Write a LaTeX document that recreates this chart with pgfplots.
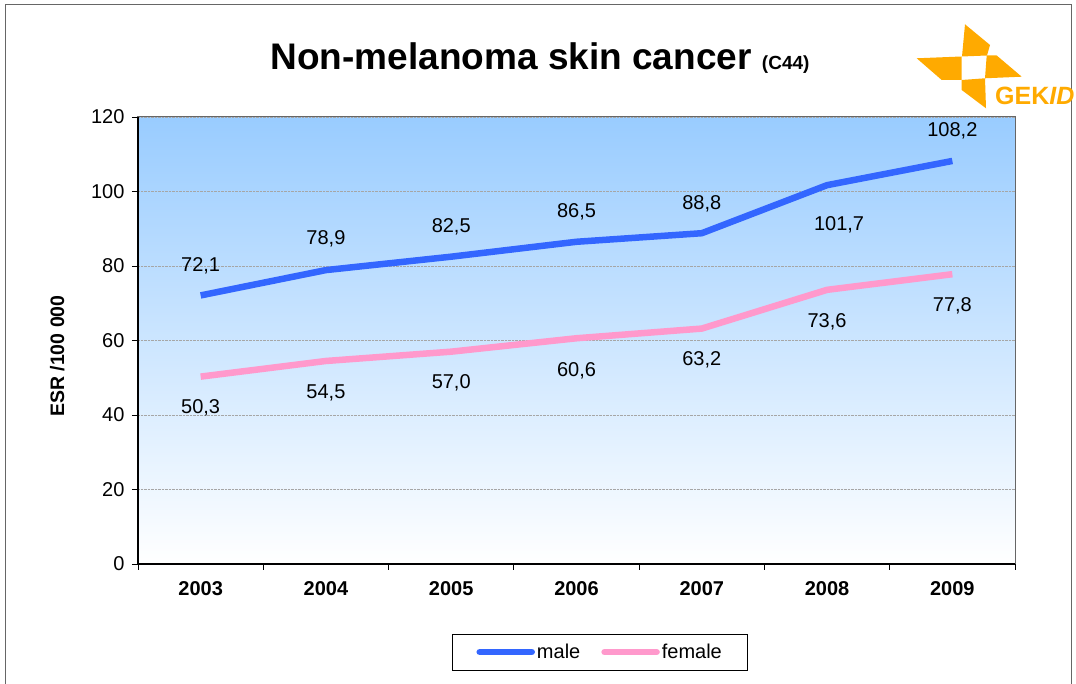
\documentclass[border=0pt]{standalone}
\usepackage{fontspec}
\setmainfont{Liberation Sans}
\usepackage{pgfplots}
\pgfplotsset{compat=1.18}
\definecolor{male}{HTML}{3366FF}
\definecolor{female}{HTML}{FF99CC}
\definecolor{bgtop}{HTML}{99CCFF}
\definecolor{logoc}{HTML}{FFAA00}
\begin{document}
\begin{tikzpicture}[x=1pt,y=1pt]
\useasboundingbox (-138,-120) rectangle (938,564);
% outer frame and decorations in pixel coordinates
\begin{scope}[shift={(-138pt,564pt)},x=1pt,y=-1pt]
  \draw[gray!80!black, line width=1pt] (6,700) -- (6,5) -- (1071,5) -- (1071,700);
  \node[font=\bfseries\fontsize{37}{44}\selectfont, anchor=base] at (540,70) {Non-melanoma skin cancer {\fontsize{19}{22}\selectfont (C44)}};
  % logo
  \fill[logoc] (965,24.3) -- (990,45) -- (987,55.5) -- (962,56.5) -- cycle;
  \fill[logoc] (916.7,58.3) -- (961.7,56.5) -- (961.7,80) -- (941.7,80) -- cycle;
  \fill[logoc] (986.7,55.5) -- (996.7,55.5) -- (1021.7,76.7) -- (985,78.3) -- cycle;
  \fill[logoc] (961.7,80) -- (985,78.3) -- (986,108.3) -- (961.7,90) -- cycle;
  \node[font=\bfseries\fontsize{25}{28}\selectfont, text=logoc, anchor=base west, inner sep=0pt] at (995,105) {GEK\textit{ID}};
\end{scope}
\begin{axis}[
  at={(0,0)}, anchor=south west,
  scale only axis, width=877pt, height=447pt,
  xmin=-0.5, xmax=6.5, ymin=0, ymax=120,
  xtick={0,1,2,3,4,5,6},
  xticklabels={2003,2004,2005,2006,2007,2008,2009},
  minor xtick={-0.5,0.5,1.5,2.5,3.5,4.5,5.5,6.5},
  ytick={0,20,40,60,80,100,120},
  xtick pos=bottom, ytick pos=left,
  tick align=outside,
  major tick length=6pt, minor tick length=6pt,
  major x tick style={draw=none},
  minor x tick style={draw=black, line width=0.8pt},
  major y tick style={draw=black, line width=0.8pt},
  ymajorgrids,
  major grid style={densely dotted, gray!70, line width=0.6pt},
  axis line style={draw=gray!80!black, line width=1pt},
  axis background/.style={shade, top color=bgtop, bottom color=white},
  /pgf/number format/assume math mode=true,
  tick label style={font=\fontsize{20}{24}\selectfont},
  xticklabel style={font=\bfseries\fontsize{20}{24}\selectfont, yshift=-8pt},
  yticklabel style={xshift=-4pt},
  ylabel={ESR /100 000},
  ylabel style={font=\bfseries\fontsize{19.5}{24}\selectfont, at={(-0.092,0.465)}, anchor=center},
  legend columns=2,
  legend style={at={(0.527,-0.197)}, anchor=center, draw=black, line width=0.8pt, fill=white,
    font=\fontsize{20}{24}\selectfont, inner xsep=24pt, inner ysep=8pt,
    /tikz/every even column/.append style={column sep=19pt}},
  legend image code/.code={\draw[#1, line cap=round] (0pt,0pt) -- (52pt,0pt);},
  clip=false,
]
\addplot[male, line width=6.5pt, line join=round] coordinates {(0,72.1)(1,78.9)(2,82.5)(3,86.5)(4,88.8)(5,101.7)(6,108.2)};
\addlegendentry{male}
\addplot[female, line width=6.5pt, line join=round] coordinates {(0,50.3)(1,54.5)(2,57.0)(3,60.6)(4,63.2)(5,73.6)(6,77.8)};
\addlegendentry{female}
\draw[black, line width=1.2pt] (rel axis cs:0,1) -- (rel axis cs:0,0) -- (rel axis cs:1,0);
\begin{scope}[every node/.style={font=\fontsize{20}{24}\selectfont, anchor=center}]
\node[yshift=30pt] at (axis cs:0,72.1) {72,1};
\node[yshift=31pt] at (axis cs:1,78.9) {78,9};
\node[yshift=30pt] at (axis cs:2,82.5) {82,5};
\node[yshift=30pt] at (axis cs:3,86.5) {86,5};
\node[yshift=29pt] at (axis cs:4,88.8) {88,8};
\node[yshift=-40pt, xshift=12pt] at (axis cs:5,101.7) {101,7};
\node[yshift=30pt] at (axis cs:6,108.2) {108,2};
\node[yshift=-31pt] at (axis cs:0,50.3) {50,3};
\node[yshift=-32pt] at (axis cs:1,54.5) {54,5};
\node[yshift=-31pt] at (axis cs:2,57.0) {57,0};
\node[yshift=-33pt] at (axis cs:3,60.6) {60,6};
\node[yshift=-31pt] at (axis cs:4,63.2) {63,2};
\node[yshift=-32pt] at (axis cs:5,73.6) {73,6};
\node[yshift=-32pt] at (axis cs:6,77.8) {77,8};
\end{scope}
\end{axis}
\end{tikzpicture}
\end{document}
